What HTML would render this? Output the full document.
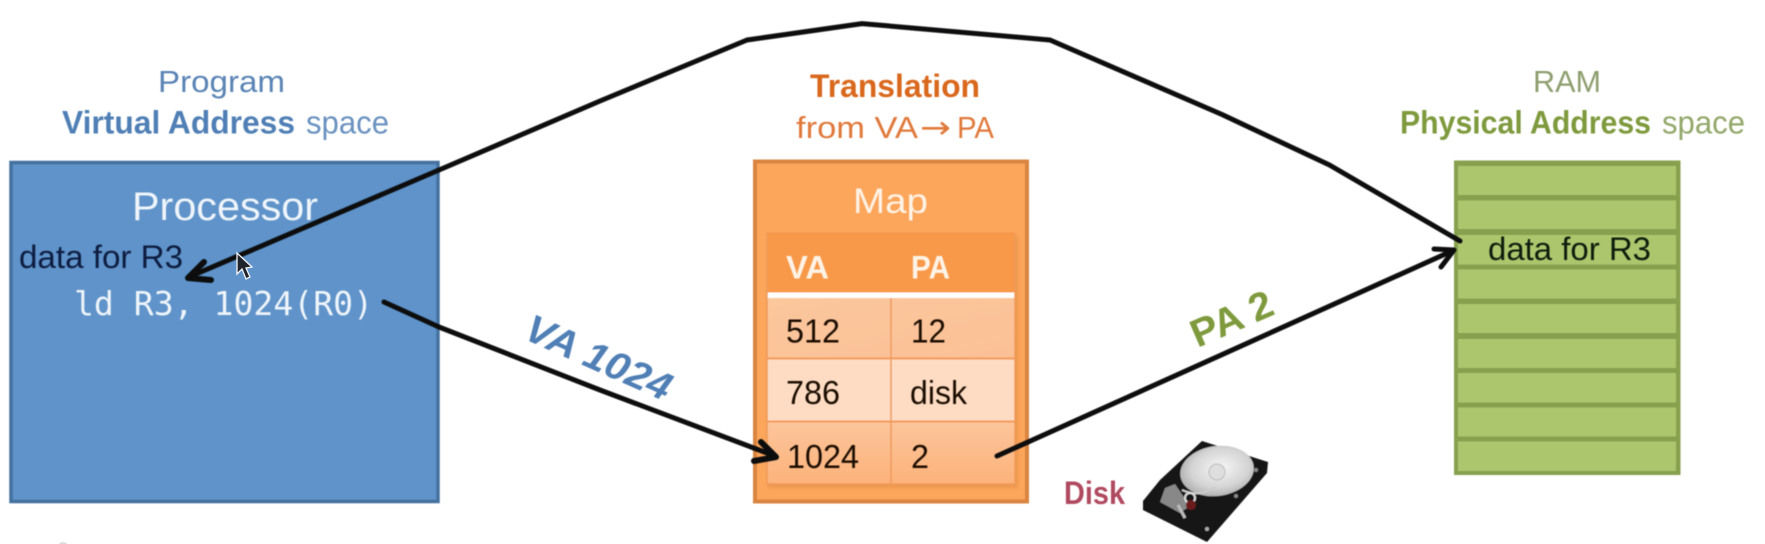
<!DOCTYPE html>
<html><head><meta charset="utf-8"><style>
html,body{margin:0;padding:0;background:#fff;width:1765px;height:544px;overflow:hidden}
svg{display:block}
text{font-family:"Liberation Sans",sans-serif}
</style></head><body>
<svg width="1765" height="544" viewBox="0 0 1765 544" xmlns="http://www.w3.org/2000/svg">
<defs>
<filter id="b"><feGaussianBlur stdDeviation="0.5"/></filter>
<filter id="b2"><feGaussianBlur stdDeviation="1.5"/></filter>
<linearGradient id="r1" x1="0" y1="0" x2="1" y2="1"><stop offset="0" stop-color="#fbc79c"/><stop offset="1" stop-color="#fcc097"/></linearGradient>
<linearGradient id="r3" x1="0" y1="0" x2="0" y2="1"><stop offset="0" stop-color="#fcc59b"/><stop offset="1" stop-color="#fdb27a"/></linearGradient>
<radialGradient id="pl" cx="0.55" cy="0.45" r="0.65"><stop offset="0" stop-color="#f6f6f6"/><stop offset="0.6" stop-color="#d4d4d4"/><stop offset="1" stop-color="#a0a0a0"/></radialGradient>
</defs>
<ellipse cx="63" cy="544" rx="4" ry="2" fill="#ddd"/>
<g filter="url(#b)">
<!-- Blue box -->
<rect x="11" y="162.5" width="427" height="339" fill="#5f93c9" stroke="#44719f" stroke-width="3.5"/>
<!-- Orange box -->
<rect x="755" y="161.5" width="272" height="340" fill="#fca65c" stroke="#d9843f" stroke-width="4"/>
<rect x="768" y="236" width="250" height="252" fill="#d9843f" opacity=".45" filter="url(#b2)"/>
<rect x="767" y="233" width="248" height="60" fill="#f8994a" stroke="#f2964d" stroke-width="1"/>
<rect x="767" y="292.5" width="248" height="6" fill="#fff"/>
<rect x="767" y="298" width="248" height="60.5" fill="url(#r1)"/>
<rect x="767" y="358.5" width="248" height="63" fill="#fddcc3"/>
<rect x="767" y="421.5" width="248" height="62.5" fill="url(#r3)"/>
<path d="M767 358.5H1015M767 421.5H1015" stroke="#f59a55" stroke-width="2"/>
<path d="M891 298V484" stroke="#ee9a5c" stroke-width="1.5"/>
<path d="M767 233V484H1015V233" fill="none" stroke="#f09a58" stroke-width="1.5"/>
<!-- Green box -->
<rect x="1454" y="160.5" width="226.5" height="314.5" fill="#87a04d"/>
<g fill="#acc66e">
<rect x="1458" y="166" width="218" height="29"/>
<rect x="1458" y="200.5" width="218" height="28.5"/>
<rect x="1458" y="235" width="218" height="29.5"/>
<rect x="1458" y="269.5" width="218" height="29"/>
<rect x="1458" y="304" width="218" height="29"/>
<rect x="1458" y="339" width="218" height="29"/>
<rect x="1458" y="373" width="218" height="29.5"/>
<rect x="1458" y="407.5" width="218" height="29"/>
<rect x="1458" y="441.5" width="218" height="29.5"/>
</g>
</g>
<!-- Disk -->
<g filter="url(#b)">
<path d="M1202 441L1268 462L1267 473L1207 542L1143 510L1143 501L1160 480Z" fill="#141414"/>
<ellipse cx="1217" cy="471" rx="37" ry="25" transform="rotate(-8 1217 471)" fill="url(#pl)"/>
<path d="M1165 488L1175 484L1190 506L1180 513L1160 502Z" fill="#888"/>
<path d="M1182 490Q1200 498 1215 487" stroke="#ccc" stroke-width="2" fill="none"/>
<circle cx="1190" cy="498" r="5" fill="none" stroke="#ddd" stroke-width="2"/>
<circle cx="1191" cy="505" r="5" fill="#6b1a1a"/>
<path d="M1178 505L1185 518" stroke="#bbb" stroke-width="3"/>
<circle cx="1217" cy="472" r="8" fill="#dedede" stroke="#bbb"/>
<circle cx="1207" cy="529" r="2" fill="#aaa"/><circle cx="1236" cy="496" r="2" fill="#888"/><circle cx="1256" cy="470" r="2" fill="#888"/>
</g>
<!-- Titles -->
<g filter="url(#b)">
<text x="158" y="92" font-size="31" fill="#5a83b4" textLength="127" lengthAdjust="spacingAndGlyphs">Program</text>
<text x="62" y="133.5" font-size="32" font-weight="bold" fill="#4f7fb5" textLength="233" lengthAdjust="spacingAndGlyphs">Virtual Address</text>
<text x="306" y="133.5" font-size="32" fill="#6a92bf" textLength="83" lengthAdjust="spacingAndGlyphs">space</text>
<text x="810" y="97" font-size="32" font-weight="bold" fill="#d9681f" textLength="170" lengthAdjust="spacingAndGlyphs">Translation</text>
<text x="796" y="138" font-size="31" fill="#e0793a" textLength="122" lengthAdjust="spacingAndGlyphs">from VA</text>
<text x="920" y="138" font-size="31" fill="#e0793a" style="font-family:'DejaVu Sans',sans-serif" textLength="31" lengthAdjust="spacingAndGlyphs">→</text>
<text x="957" y="138" font-size="31" fill="#e0793a" textLength="37" lengthAdjust="spacingAndGlyphs">PA</text>
<text x="1533" y="92" font-size="31" fill="#8e9e6e" textLength="68" lengthAdjust="spacingAndGlyphs">RAM</text>
<text x="1400" y="133.5" font-size="32" font-weight="bold" fill="#7f9a3e" textLength="251" lengthAdjust="spacingAndGlyphs">Physical Address</text>
<text x="1662" y="133.5" font-size="32" fill="#93a76a" textLength="83" lengthAdjust="spacingAndGlyphs">space</text>
<!-- Box text -->
<text x="132" y="220" font-size="40" fill="#eef4fa" textLength="186" lengthAdjust="spacingAndGlyphs">Processor</text>
<text x="19" y="268" font-size="32" fill="#0a1f40" textLength="164" lengthAdjust="spacingAndGlyphs">data for R3</text>
<text x="74" y="315" font-size="33" fill="#eef4fa" style="font-family:'DejaVu Sans Mono',monospace" textLength="299" lengthAdjust="spacingAndGlyphs">ld R3, 1024(R0)</text>
<text x="853" y="213" font-size="35" fill="#fff3e6" textLength="75" lengthAdjust="spacingAndGlyphs">Map</text>
<text x="786" y="278.5" font-size="32" font-weight="bold" fill="#fff3e6" textLength="43" lengthAdjust="spacingAndGlyphs">VA</text>
<text x="911" y="278.5" font-size="32" font-weight="bold" fill="#fff3e6" textLength="39" lengthAdjust="spacingAndGlyphs">PA</text>
<g font-size="33" fill="#1c0f06">
<text x="786" y="342.5" textLength="54" lengthAdjust="spacingAndGlyphs">512</text>
<text x="911" y="342.5" textLength="35" lengthAdjust="spacingAndGlyphs">12</text>
<text x="786" y="404" textLength="54" lengthAdjust="spacingAndGlyphs">786</text>
<text x="910" y="404" textLength="57" lengthAdjust="spacingAndGlyphs">disk</text>
<text x="787" y="468" textLength="72" lengthAdjust="spacingAndGlyphs">1024</text>
<text x="911" y="468" textLength="18" lengthAdjust="spacingAndGlyphs">2</text>
</g>
<text x="1488" y="260" font-size="32" fill="#0c1f08" textLength="163" lengthAdjust="spacingAndGlyphs">data for R3</text>
<text x="1064" y="504" font-size="32" font-weight="bold" fill="#b0485e" textLength="61" lengthAdjust="spacingAndGlyphs">Disk</text>
<text transform="translate(522 338) rotate(24)" font-size="39" font-weight="bold" font-style="italic" fill="#4f7fb5" textLength="156" lengthAdjust="spacingAndGlyphs">VA 1024</text>
<text transform="translate(1197.5 348) rotate(-23.5)" font-size="39" font-weight="bold" fill="#7f9a3e" textLength="86" lengthAdjust="spacingAndGlyphs">PA 2</text>
</g>
<!-- Arrows -->
<g fill="none" stroke="#070a10" stroke-width="5" stroke-linecap="round" stroke-linejoin="round" filter="url(#b)">
<path d="M1460 241L1329.5 165L1222 114.5L1050 40L862 23.6L747 40L600 101L439 170L189 277"/>
<path d="M204 262L188 278L211 280" stroke-width="6"/>
<path d="M384 302L439 327L600 390L775 456"/>
<path d="M761 442L776 457L754 461" stroke-width="6"/>
<path d="M997 456L1452 251"/>
<path d="M1434 249L1454 250L1441 267" stroke-width="5"/>
</g>
<!-- Cursor -->
<path d="M237 253V274L242 269L246 279L250 277L246 268L252 267Z" fill="#20242c" stroke="#f2f6fa" stroke-width="1.3"/>
</svg>
</body></html>
